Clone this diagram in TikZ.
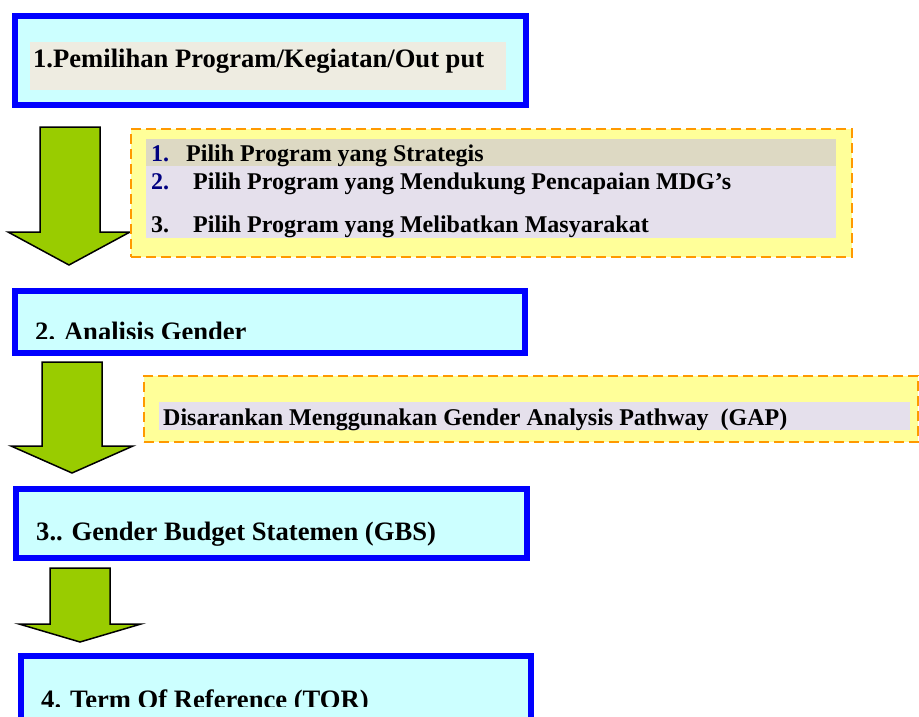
\documentclass[tikz,border=0pt]{standalone}
\usepackage{fontspec}
\setmainfont{Liberation Serif}
\definecolor{bborder}{HTML}{0000FF}
\definecolor{cyanfill}{HTML}{CCFFFF}
\definecolor{beigebar}{HTML}{EEECE1}
\definecolor{tanbar}{HTML}{DDD9C3}
\definecolor{lavbar}{HTML}{E5E0EC}
\definecolor{yelfill}{HTML}{FFFF99}
\definecolor{orangeline}{HTML}{FF9900}
\definecolor{arrowgreen}{HTML}{99CC00}
\definecolor{navynum}{HTML}{000080}
\begin{document}
\begin{tikzpicture}[x=1pt,y=-1pt,
  bluebox/.style={draw=bborder,line width=6pt,fill=cyanfill,rectangle,inner sep=0pt,anchor=north west},
  notebox/.style={draw=orangeline,line width=2pt,dash pattern=on 10pt off 5pt,fill=yelfill,rectangle,inner sep=0pt,anchor=north west},
  barbox/.style={draw=none,rectangle,inner sep=0pt,anchor=north west},
  bigtxt/.style={anchor=base west,inner sep=0pt,font=\fontsize{26.6}{30}\selectfont\bfseries},
  smalltxt/.style={anchor=base west,inner sep=0pt,font=\fontsize{24}{28}\selectfont\bfseries},
  blockarrow/.style={draw=black,line width=1.5pt,fill=arrowgreen,line join=miter}]
\useasboundingbox (0,0) rectangle (919,717);
\clip (0,0) rectangle (919,717);

% ---- Box 1
\node[bluebox,minimum width=511pt,minimum height=89pt] (box1) at (12,13) {};
\node[barbox,fill=beigebar,minimum width=476pt,minimum height=48pt] (bar1) at (30,42) {};
\node[bigtxt] (t1) at (33,67.5) {1.Pemilihan Program/Kegiatan/Out put};

% ---- Arrow 1
\draw[blockarrow] (40,127) -- (100,127) -- (100,232) -- (130,232) -- (69,265) -- (8,232) -- (40,232) -- cycle;

% ---- Note 1
\node[notebox,minimum width=721pt,minimum height=128pt] (note1) at (130,128) {};
\node[barbox,fill=tanbar,minimum width=690pt,minimum height=27pt] (n1bar1) at (146,139) {};
\node[barbox,fill=lavbar,minimum width=690pt,minimum height=72pt] (n1bar2) at (146,166) {};
\node[smalltxt,text=navynum] (n1a) at (151,161) {1.};
\node[smalltxt] (n1at) at (186,161) {Pilih Program yang Strategis};
\node[smalltxt,text=navynum] (n1b) at (151,189) {2.};
\node[smalltxt] (n1bt) at (193,189) {Pilih Program yang Mendukung Pencapaian MDG’s};
\node[smalltxt] (n1c) at (151,232) {3.};
\node[smalltxt] (n1ct) at (193,232) {Pilih Program yang Melibatkan Masyarakat};

% ---- Box 2
\node[bluebox,minimum width=510pt,minimum height=62pt] (box2) at (12,288) {};
\begin{scope}
\clip (15,291) rectangle (519,338.5);
\node[bigtxt] (t2) at (35,340) {2. Analisis Gender};
\end{scope}

% ---- Arrow 2
\draw[blockarrow] (42,362) -- (102,362) -- (102,446) -- (133,446) -- (72,473) -- (11,446) -- (42,446) -- cycle;

% ---- Note 2
\node[notebox,minimum width=774pt,minimum height=66pt] (note2) at (143,375) {};
\node[barbox,fill=lavbar,minimum width=751pt,minimum height=28pt] (n2bar) at (159,402) {};
\node[smalltxt] (n2t) at (163,425) {Disarankan Menggunakan Gender Analysis Pathway\ \ (GAP)};

% ---- Box 3
\node[bluebox,minimum width=511pt,minimum height=69pt] (box3) at (13,486) {};
\begin{scope}
\clip (16,489) rectangle (521,545);
\node[bigtxt] (t3) at (36,540) {3.. Gender Budget Statemen (GBS)};
\end{scope}

% ---- Arrow 3
\draw[blockarrow] (50,568) -- (110,568) -- (110,624) -- (141,624) -- (80,642) -- (19,624) -- (50,624) -- cycle;

% ---- Box 4
\node[bluebox,minimum width=510pt,minimum height=67pt] (box4) at (18,653) {};
\begin{scope}
\clip (21,656) rectangle (525,706.5);
\node[bigtxt] (t4) at (41,708) {4. Term Of Reference (TOR)};
\end{scope}
\end{tikzpicture}
\end{document}
